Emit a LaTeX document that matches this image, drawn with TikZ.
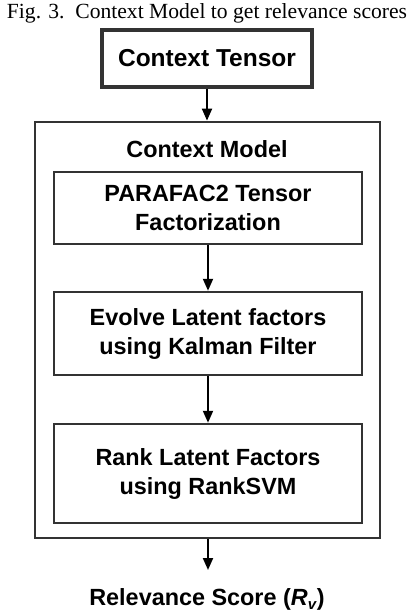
\documentclass[tikz,border=0pt]{standalone}
\usepackage{fontspec}
\setmainfont{Liberation Sans}
\newfontfamily\capfont{Liberation Serif}
\usetikzlibrary{arrows.meta}
\begin{document}
\begin{tikzpicture}[x=1pt,y=-1pt,
  boxstyle/.style={draw=black!80, line width=2.5pt, fill=white, align=center,
    font=\fontsize{23.4}{29}\selectfont\bfseries, inner sep=0pt},
  arr/.style={line width=2pt, -{Triangle[length=12pt,width=10pt]}},
  lbl/.style={font=\fontsize{23.4}{29}\selectfont\bfseries, inner sep=0pt}]
\useasboundingbox (0,0) rectangle (414,616);
\node[anchor=base, font=\capfont\fontsize{21.6}{26}\selectfont, inner sep=0pt] (cap) at (207,18) {Fig. 3.\ \ Context Model to get relevance scores};
\node[boxstyle, line width=3.2pt, minimum width=210, minimum height=57, font=\fontsize{24.5}{29}\selectfont\bfseries] (ct) at (207,58.5) {Context Tensor};
\node[draw=black!80, line width=2.8pt, minimum width=345, minimum height=416, inner sep=0pt] (outer) at (207.5,330) {};
\node[lbl, anchor=base] (cm) at (207,157) {Context Model};
\node[boxstyle, minimum width=308, minimum height=72] (para) at (208,208) {PARAFAC2 Tensor\\Factorization};
\node[boxstyle, minimum width=308, minimum height=83] (evol) at (208,333.5) {Evolve Latent factors\\using Kalman Filter};
\node[boxstyle, minimum width=308, minimum height=99] (rank) at (208,473.5) {Rank Latent Factors\\using RankSVM};
\node[lbl, anchor=base] (rs) at (207,605) {Relevance Score (\textit{R}\raisebox{-0.35ex}{\fontsize{15}{15}\selectfont\textit{v}})};
\coordinate (rsin) at (208,570);
\draw[arr] (ct.south) -- (outer.north -| ct.south);
\draw[arr] (para.south) -- (evol.north);
\draw[arr] (evol.south) -- (rank.north);
\draw[arr] (outer.south -| rsin) -- (rsin);
\end{tikzpicture}
\end{document}
